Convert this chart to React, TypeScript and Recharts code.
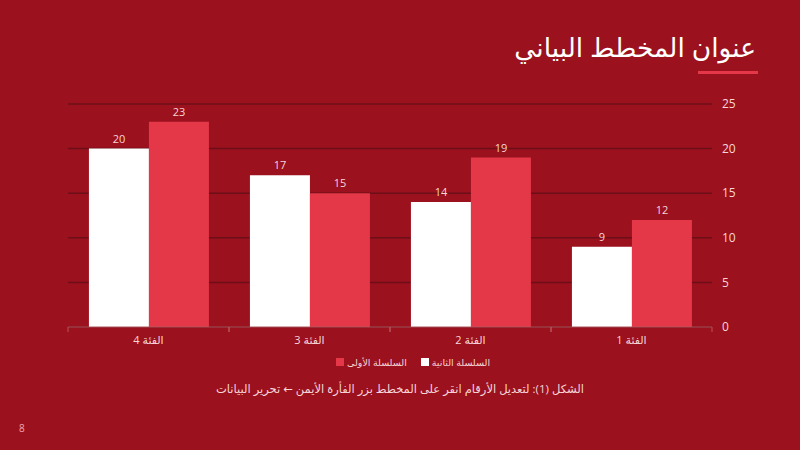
import { BarChart, Bar, XAxis, YAxis, CartesianGrid, LabelList, Legend } from 'recharts';

const categories = ['الفئة 1', 'الفئة 2', 'الفئة 3', 'الفئة 4'];
const seriesOne = [12, 19, 15, 23];
const seriesTwo = [9, 14, 17, 20];
const yTicks = [0, 5, 10, 15, 20, 25];
const seriesNames = ['السلسلة الأولى', 'السلسلة الثانية'];

const BG = '#9b111e';
const RED = '#e43848';
const TEXT = '#f5d5d8';
const FONT = '"Open Sans", "DejaVu Sans", sans-serif';
const HALF_BAND = 80.5;

const data = categories.map((name, i) => ({
  name,
  s1: seriesOne[i],
  s2: seriesTwo[i]
}));

function LegendBox() {
  const items = [
    { label: seriesNames[0], color: RED },
    { label: seriesNames[1], color: '#ffffff' }
  ];
  return (
    <div style={{ display: 'flex', justifyContent: 'center', gap: 14, fontFamily: FONT, fontSize: 9.5, color: TEXT, height: 16, alignItems: 'center', paddingLeft: 6 }}>
      {items.map((it) => (
        <div key={it.label} style={{ display: 'flex', alignItems: 'center', gap: 3 }}>
          <span style={{ width: 8, height: 8, background: it.color, display: 'inline-block' }} />
          <span>{it.label}</span>
        </div>
      ))}
    </div>
  );
}

function CatTick(props: any) {
  const { x, y, payload } = props;
  return (
    <g>
      <line x1={x - HALF_BAND} x2={x - HALF_BAND} y1={y - 9} y2={y - 4} stroke="#b8545c" />
      <line x1={x + HALF_BAND} x2={x + HALF_BAND} y1={y - 9} y2={y - 4} stroke="#b8545c" />
      <text x={x} y={y} dy="0.71em" textAnchor="middle" fill={TEXT} fontSize={11} fontFamily={FONT}>
        {payload.value}
      </text>
    </g>
  );
}

export default function App() {
  return (
    <div style={{ position: 'fixed', left: 0, top: 0, width: 800, height: 450, background: BG, overflow: 'hidden', fontFamily: FONT }}>
      <style>{`body{margin:0}`}</style>
      <div style={{ position: 'absolute', right: 44, top: 27, fontSize: 26.5, color: '#ffffff', direction: 'rtl', lineHeight: '40px' }}>
        عنوان المخطط البياني
      </div>
      <div style={{ position: 'absolute', left: 698, top: 71, width: 60, height: 3, background: RED }} />
      <BarChart
        width={800}
        height={450}
        data={data}
        margin={{ top: 104, right: 48, left: 68, bottom: 80 }}
        barCategoryGap="13%"
        barGap={0}
      >
        <CartesianGrid vertical={false} stroke="#6c0f18" strokeWidth={1.5} />
        <XAxis
          dataKey="name"
          reversed
          height={27}
          tickSize={0}
          tickMargin={9}
          axisLine={{ stroke: '#b8545c' }}
          tickLine={false}
          tick={<CatTick />}
        />
        <YAxis
          orientation="right"
          width={40}
          domain={[0, 25]}
          ticks={yTicks}
          axisLine={false}
          tickLine={false}
          tickSize={0}
          tickMargin={10}
          tick={{ fill: TEXT, fontSize: 12, fontFamily: FONT, textAnchor: 'start' }}
        />
        <Legend verticalAlign="bottom" content={() => <LegendBox />} />
        <Bar dataKey="s2" name={seriesNames[1]} fill="#ffffff" isAnimationActive={false}>
          <LabelList dataKey="s2" position="top" offset={6} fill={TEXT} fontSize={11} fontFamily={FONT} />
        </Bar>
        <Bar dataKey="s1" name={seriesNames[0]} fill={RED} isAnimationActive={false}>
          <LabelList dataKey="s1" position="top" offset={6} fill={TEXT} fontSize={11} fontFamily={FONT} />
        </Bar>
      </BarChart>
      <div style={{ position: 'absolute', left: 0, width: 800, top: 381, textAlign: 'center', fontSize: 11.5, color: TEXT, direction: 'rtl' }}>
        الشكل (1): لتعديل الأرقام انقر على المخطط بزر الفأرة الأيمن ← تحرير البيانات
      </div>
      <div style={{ position: 'absolute', left: 19, top: 421, fontSize: 10, color: '#f0a8b0' }}>8</div>
    </div>
  );
}
